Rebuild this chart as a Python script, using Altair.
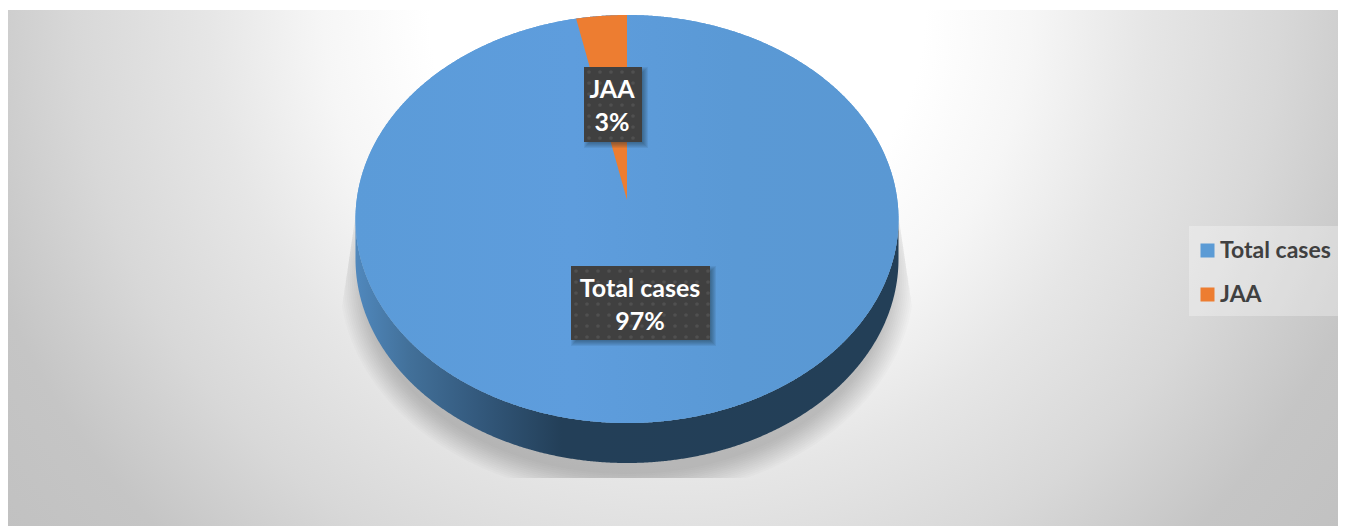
import altair as alt
import numpy as np
import pandas as pd

# ---- values
categories = ["Total cases", "JAA"]
shares = [97, 3]
colors = ["#5b9bd5", "#ed7d31"]

# ---- layout (page pixels)
CX, CY, RX, RY = 627.0, 219.0, 271.5, 204.0
DEPTH = 40.0
APEX_Y = 200.0
FONT = "Lato"

XS = alt.Scale(domain=[8, 1338], nice=False, zero=False)
YS = alt.Scale(domain=[526, 8], nice=False, zero=False)


def xe(f="x"):
    return alt.X(f"{f}:Q", scale=XS, axis=None)


def ye(f="y"):
    return alt.Y(f"{f}:Q", scale=YS, axis=None)


def rect(x0, x1, y0, y1, **mark):
    df = pd.DataFrame({"x": [x0], "x1": [x1], "y": [y0], "y1": [y1]})
    return alt.Chart(df).mark_rect(**mark).encode(
        x=xe(), x2=alt.X2("x1:Q"), y=ye(), y2=alt.Y2("y1:Q"))


def area(df, **mark):
    return alt.Chart(df).mark_area(**mark).encode(x=xe(), y=ye(), y2=alt.Y2("y1:Q"))


layers = []

# ---- background: the rectangle runs on far below the page so that the
# radial gradient is stretched the way the original one is
layers.append(rect(8, 1346, 10, 1484, color=alt.Gradient(
    gradient="radial", x1=0.5, y1=0, r1=0, x2=0.5, y2=0, r2=0.6,
    stops=[alt.GradientStop(offset=0, color="#ffffff"),
           alt.GradientStop(offset=0.28, color="#ffffff"),
           alt.GradientStop(offset=0.4, color="#f6f6f6"),
           alt.GradientStop(offset=0.53, color="#e6e6e6"),
           alt.GradientStop(offset=0.68, color="#d8d8d8"),
           alt.GradientStop(offset=0.83, color="#c5c5c5"),
           alt.GradientStop(offset=1, color="#c0c0c0")])))

# ---- soft shadow under the pie
SH_CY = 278.0
for dr in np.linspace(-8, 16, 13):
    rx, ry = RX + dr, RY + dr
    xs = np.linspace(CX - rx, CX + rx, 500)
    root = np.sqrt(np.clip(1 - ((xs - CX) / rx) ** 2, 0, 1))
    low = np.minimum(SH_CY + ry * root, 478)
    over = np.clip(np.abs(xs - CX) - RX, 0, None)
    top = np.maximum(SH_CY - ry * root, 215 + over * 6.8)
    top = np.minimum(top, low)
    layers.append(area(pd.DataFrame({"x": xs, "y": top, "y1": low}),
                       color="#000000", opacity=0.017))

# ---- pie wall
xs = CX + RX * np.cos(np.linspace(np.pi, 0, 600))
root = np.sqrt(np.clip(1 - ((xs - CX) / RX) ** 2, 0, 1))
layers.append(area(pd.DataFrame({"x": xs, "y": CY + RY * root, "y1": CY + RY * root + DEPTH}),
                   color=alt.Gradient(
    gradient="linear", x1=0, y1=0, x2=1, y2=0,
    stops=[alt.GradientStop(offset=0, color="#5088bd"),
           alt.GradientStop(offset=0.1, color="#427099"),
           alt.GradientStop(offset=0.22, color="#345a7e"),
           alt.GradientStop(offset=0.38, color="#233f58"),
           alt.GradientStop(offset=1, color="#233f57")])))

# ---- pie top, encoded so that the legend comes from the library
legend = alt.Legend(orient="none", legendX=1188, legendY=231, title=None,
                    symbolType="square", symbolSize=196, symbolStrokeWidth=0,
                    labelFont=FONT, labelFontSize=23, labelFontWeight="bold",
                    labelColor="#404040", labelLimit=200, labelOffset=1,
                    rowPadding=20, padding=0)
color = alt.Color("cat:N", scale=alt.Scale(domain=categories, range=colors), legend=legend)

layers.append(rect(1189, 1341, 226, 316, color="#ffffff", opacity=0.3))

full = pd.DataFrame({"x": xs, "y": CY - RY * root, "y1": CY + RY * root, "cat": categories[0]})
layers.append(alt.Chart(full).mark_area().encode(x=xe(), y=ye(), y2=alt.Y2("y1:Q"), color=color))
layers.append(area(full, color=alt.Gradient(
    gradient="linear", x1=0, y1=0, x2=1, y2=0,
    stops=[alt.GradientStop(offset=0, color="#5b9bd8"),
           alt.GradientStop(offset=0.4, color="#5e9ddd"),
           alt.GradientStop(offset=0.7, color="#5a99d5"),
           alt.GradientStop(offset=1, color="#5a98d3")])))

# the small slice, its angle taken from the shares
angle = 2 * np.pi * shares[1] / sum(shares)
edge_x = CX - RX * np.sin(angle)
edge_y = CY - RY * np.cos(angle)
wx = np.linspace(edge_x, CX, 80)
wroot = np.sqrt(1 - ((wx - CX) / RX) ** 2)
wedge_top = CY - RY * wroot
wedge_low = edge_y + (wx - edge_x) / (CX - edge_x) * (APEX_Y - edge_y)
layers.append(alt.Chart(pd.DataFrame({"x": wx, "y": wedge_top, "y1": wedge_low, "cat": categories[1]}))
              .mark_area().encode(x=xe(), y=ye(), y2=alt.Y2("y1:Q"), color=color))

# ---- data labels
boxes = [(571, 710, 266, 340, 640, 289, 322), (584, 642, 67, 142, 612, 90, 123)]
for (x0, x1, y0, y1, tx, ty1, ty2), cat, val in zip(boxes, categories, shares):
    for e in range(0, 7):
        layers.append(rect(x0 + 6 - e, x1 + e, y0 + 6 - e, y1 + e, color="#16293d", opacity=0.085))
    layers.append(rect(x0, x1, y0, y1, color="#404040"))
    gx, gy = np.meshgrid(np.arange(x0 + 5, x1, 11), np.arange(y0 + 5, y1, 11))
    layers.append(alt.Chart(pd.DataFrame({"x": gx.ravel(), "y": gy.ravel()}))
                  .mark_circle(size=14, color="#5c5c5c", opacity=0.55).encode(x=xe(), y=ye()))
    tdf = pd.DataFrame({"x": [tx, tx], "y": [ty1, ty2], "t": [cat, f"{val}%"]})
    layers.append(alt.Chart(tdf).mark_text(font=FONT, fontSize=25, fontWeight="bold", color="#ffffff",
                                           align="center", baseline="middle")
                  .encode(x=xe(), y=ye(), text="t:N"))

chart = alt.layer(*layers).properties(
    width=1330, height=518, padding=0, autosize=alt.AutoSizeParams(type="none"),
    background="#ffffff",
).configure_view(stroke=None)

chart.save("out.html", embed_options={"renderer": "svg", "actions": False})
